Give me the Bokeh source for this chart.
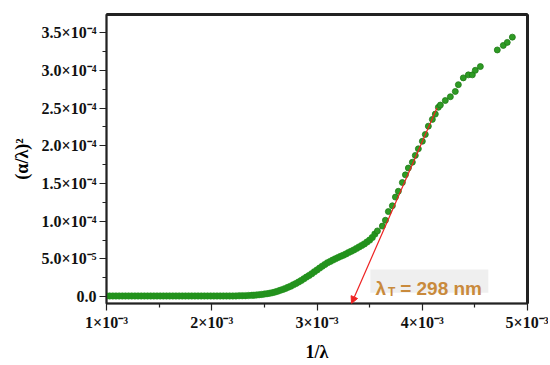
from bokeh.plotting import figure
from bokeh.models import Range1d, FixedTicker, Arrow, NormalHead, Label, BoxAnnotation, LinearAxis
from bokeh.embed import file_html
from bokeh.resources import INLINE

# ---- data (x in units of 1e-3, y in units of 1e-5) ----
x_flat = [1.00,1.03,1.06,1.09,1.12,1.15,1.18,1.21,1.24,1.27,1.30,1.33,1.36,1.39,1.42,1.45,
          1.48,1.51,1.54,1.57,1.60,1.63,1.66,1.69,1.72,1.75,1.78,1.81,1.84,1.87,1.90,1.93,
          1.96,1.99,2.02,2.05,2.08,2.11,2.14,2.17,2.20,2.23,2.26,2.29,2.32,2.35,2.38]
y_flat = [0.10]*41 + [0.11,0.12,0.13,0.14,0.16,0.18]

x_rise = [2.400,2.425,2.450,2.475,2.500,2.525,2.550,2.575,2.600,2.625,2.650,2.675,2.700,
          2.725,2.750,2.775,2.800,2.825,2.850,2.875,2.900,2.925,2.950,2.975,3.000,3.025,
          3.050,3.075,3.100,3.125,3.150,3.175,3.200,3.225,3.250,3.275,3.300,3.325,3.350,
          3.375,3.400,3.425,3.450,3.475,3.500,3.525,3.550]
y_rise = [0.20,0.23,0.26,0.30,0.35,0.40,0.46,0.53,0.61,0.72,0.84,0.97,1.10,
          1.25,1.40,1.57,1.75,1.95,2.15,2.37,2.60,2.82,3.05,3.30,3.55,3.80,
          4.05,4.28,4.50,4.68,4.85,5.02,5.20,5.35,5.50,5.67,5.85,6.02,6.20,
          6.40,6.60,6.80,7.00,7.25,7.50,7.85,8.30]

x_lin = [3.574,3.621,3.650,3.678,3.716,3.745,3.773,3.811,3.840,3.868,3.906,3.934,3.963,
         4.001,4.029,4.058,4.096,4.124,4.153]
y_lin = [8.72,9.36,10.13,11.28,12.05,13.2,13.97,15.13,16.15,17.05,17.82,18.72,19.6,
         20.6,21.5,22.6,23.5,24.2,25.1]

x_top = [4.172,4.219,4.267,4.314,4.343,4.390,4.438,4.476,4.504,4.552,4.713,4.770,4.808,4.856]
y_top = [25.4,26.0,26.5,27.2,28.1,29.0,29.4,29.4,30.0,30.5,32.7,33.3,33.7,34.4]

# linear fit (Tauc-like extrapolation), lambda_T = 298 nm
fit_x = [4.14e-3, 3.328e-3]
fit_y = [2.50e-4, -9e-6]

x_ticks = [1e-3, 2e-3, 3e-3, 4e-3, 5e-3]
x_tick_labels = ["1×10⁻³", "2×10⁻³", "3×10⁻³", "4×10⁻³", "5×10⁻³"]
x_minor = [1.5e-3, 2.5e-3, 3.5e-3, 4.5e-3]
y_ticks = [0.0, 5e-5, 1e-4, 1.5e-4, 2e-4, 2.5e-4, 3e-4, 3.5e-4]
y_tick_labels = ["0.0", "5.0×10⁻⁵", "1.0×10⁻⁴", "1.5×10⁻⁴", "2.0×10⁻⁴",
                 "2.5×10⁻⁴", "3.0×10⁻⁴", "3.5×10⁻⁴"]
y_minor = [2.5e-5, 7.5e-5, 1.25e-4, 1.75e-4, 2.25e-4, 2.75e-4, 3.25e-4]

xs_dense = [v * 1e-3 for v in x_flat + x_rise]
ys_dense = [v * 1e-5 for v in y_flat + y_rise]
xs_sparse = [v * 1e-3 for v in x_lin + x_top]
ys_sparse = [v * 1e-5 for v in y_lin + y_top]

p = figure(width=548, height=364, output_backend="svg", toolbar_location=None,
           x_range=Range1d(1e-3, 5e-3), y_range=Range1d(-9e-6, 3.74e-4),
           min_border_left=106, min_border_right=21, min_border_top=14, min_border_bottom=51)
p.grid.visible = False
p.outline_line_color = "#222222"
p.outline_line_width = 2
p.background_fill_color = "white"
p.border_fill_color = "white"

xax = p.below[0]
yax = p.left[0]
xax.ticker = FixedTicker(ticks=x_ticks, minor_ticks=x_minor)
yax.ticker = FixedTicker(ticks=y_ticks, minor_ticks=y_minor)
xax.major_label_overrides = dict(zip(x_ticks, x_tick_labels))
yax.major_label_overrides = dict(zip(y_ticks, y_tick_labels))
xax.axis_label = "1/λ"
yax.axis_label = "(α/λ)²"
for ax in (xax, yax):
    ax.axis_label_text_font = "Liberation Serif"
    ax.axis_label_text_font_style = "bold"
    ax.axis_label_text_font_size = "18px"
    ax.axis_label_text_color = "black"
    ax.major_label_text_font = "Liberation Serif"
    ax.major_label_text_font_style = "bold"
    ax.major_label_text_font_size = "16px"
    ax.major_label_text_color = "#111111"
    ax.axis_line_color = "#222222"
    ax.axis_line_width = 1.5
    ax.major_tick_line_color = "#222222"
    ax.minor_tick_line_color = "#222222"
    ax.major_tick_line_width = 1.2
    ax.minor_tick_line_width = 1.2
    ax.major_tick_out = 7
    ax.major_tick_in = 0
    ax.minor_tick_out = 4
    ax.minor_tick_in = 0
    ax.major_label_standoff = 3
xax.axis_label_standoff = 8
yax.axis_label_standoff = 7

# frame top/right lines
for loc in ("above", "right"):
    a = LinearAxis(ticker=FixedTicker(ticks=[]), major_label_text_font_size="0px",
                   major_tick_out=0, major_tick_in=0, minor_tick_out=0, minor_tick_in=0,
                   axis_line_color="#222222", axis_line_width=3, major_label_standoff=0)
    p.add_layout(a, loc)

# fit line with arrow
p.add_layout(Arrow(end=NormalHead(size=7, fill_color="#ee2222", line_color="#ee2222", line_width=1),
                   x_start=fit_x[0], y_start=fit_y[0], x_end=fit_x[1], y_end=fit_y[1],
                   line_color="#ee2222", line_width=1.2))

p.scatter(xs_dense, ys_dense, size=6.5, fill_color="#23921d", line_color="#23921d", line_width=0.5)
p.scatter(xs_sparse, ys_sparse, size=6, fill_color="#2e9b24", line_color="#1f7a17", line_width=0.8)

# annotation
p.add_layout(BoxAnnotation(left=3.507e-3, right=4.628e-3, bottom=5.1e-6, top=3.59e-5,
                           fill_color="#efefef", fill_alpha=1.0, line_color=None, level="overlay"))
lab_color = "#c98a3c"
p.add_layout(Label(x=3.555e-3, y=1.1e-5, text="λ", text_font="Liberation Sans",
                   text_font_style="bold", text_font_size="19px", text_color=lab_color,
                   text_baseline="alphabetic", level="overlay"))
p.add_layout(Label(x=3.675e-3, y=6.0e-6, text="T", text_font="Liberation Sans",
                   text_font_style="bold", text_font_size="12px", text_color=lab_color,
                   text_baseline="alphabetic", level="overlay"))
p.add_layout(Label(x=3.79e-3, y=1.1e-5, text="= 298 nm", text_font="Liberation Sans",
                   text_font_style="bold", text_font_size="19px", text_color=lab_color,
                   text_baseline="alphabetic", level="overlay"))

open("out.html", "w").write(file_html(p, INLINE))
